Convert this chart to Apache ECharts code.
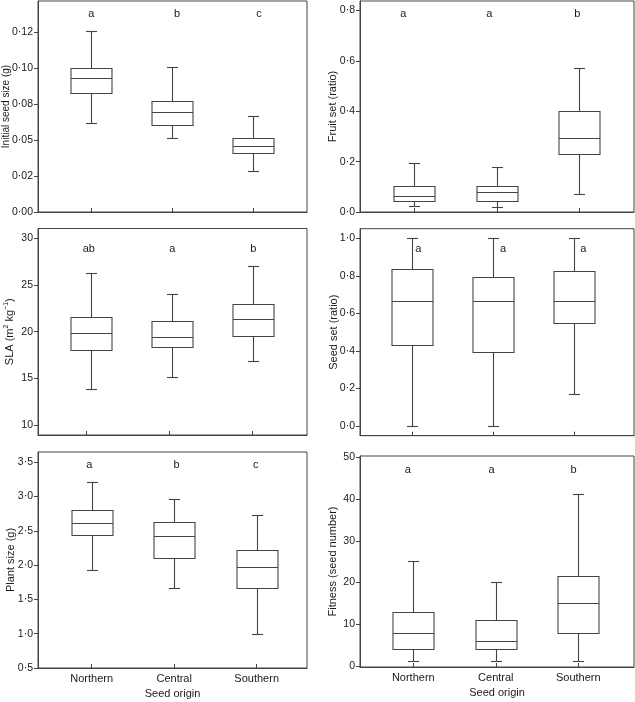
<!DOCTYPE html>
<html><head><meta charset="utf-8">
<script src="https://cdn.jsdelivr.net/npm/echarts@6/dist/echarts.min.js"></script>
<style>html,body{margin:0;padding:0;background:#fff}#c{width:635px;height:702px}</style>
</head><body><div id="c"></div>
<script>
const categories = ['Northern', 'Central', 'Southern'];
// each row: [lower whisker, Q1, median, Q3, upper whisker]
const initialSeedSize = [[0.0616,0.0824,0.0928,0.1002,0.1255],[0.0516,0.0604,0.0697,0.0769,0.1005],[0.0285,0.0407,0.0458,0.0512,0.0664]];
const fruitSet = [[0.022,0.044,0.063,0.104,0.196],[0.019,0.045,0.081,0.103,0.177],[0.070,0.229,0.293,0.401,0.570]];
const sla = [[13.82,18.04,19.82,21.54,26.29],[15.14,18.32,19.46,21.14,24.0],[16.82,19.57,21.32,23.0,27.07]];
const seedSet = [[0,0.429,0.667,0.8345,1.0],[0,0.393,0.667,0.795,1.0],[0.169,0.55,0.665,0.827,1.0]];
const plantSize = [[1.926,2.443,2.608,2.798,3.217],[1.672,2.111,2.418,2.623,2.959],[1.0,1.673,1.98,2.218,2.73]];
const fitness = [[1.1,4.0,8.0,13.0,25.2],[1.1,4.0,6.07,11.0,20.05],[1.1,8.0,15.0,21.6,41.3]];

const lettersSeedSize = ['a','b','c'];
const lettersFruitSet = ['a','a','b'];
const lettersSla = ['ab','a','b'];
const lettersSeedSet = ['a','a','a'];
const lettersPlantSize = ['a','b','c'];
const lettersFitness = ['a','a','b'];

const ticksSeedSize = [0,0.025,0.05,0.075,0.1,0.125];
const labelsSeedSize = ['0·00','0·02','0·05','0·08','0·10','0·12'];
const ticksFruitSet = [0,0.2,0.4,0.6,0.8];
const labelsFruitSet = ['0·0','0·2','0·4','0·6','0·8'];
const ticksSla = [10,15,20,25,30];
const labelsSla = ['10','15','20','25','30'];
const ticksSeedSet = [0,0.2,0.4,0.6,0.8,1.0];
const labelsSeedSet = ['0·0','0·2','0·4','0·6','0·8','1·0'];
const ticksPlantSize = [0.5,1.0,1.5,2.0,2.5,3.0,3.5];
const labelsPlantSize = ['0·5','1·0','1·5','2·0','2·5','3·0','3·5'];
const ticksFitness = [0,10,20,30,40,50];
const labelsFitness = ['0','10','20','30','40','50'];

const FONT = '"Liberation Sans", Arial, sans-serif';
const LINE = '#444';
const TXT = '#1a1a1a';

const panels = [
  {name:'Initial seed size (g)', nameSize:10, data:initialSeedSize, letters:lettersSeedSize, ticks:ticksSeedSize, labels:labelsSeedSize,
   grid:{left:38, top:1, width:269, height:211}, ymin:0, ymax:0.1465, xmin:-0.658, xmax:2.663,
   letterY:0.1375, letterDx:[0,0.06,0.07], nameGap:27, bottom:false, xticks:[0,1,2]},
  {name:'Fruit set (ratio)', nameSize:11, data:fruitSet, letters:lettersFruitSet, ticks:ticksFruitSet, labels:labelsFruitSet,
   grid:{left:360, top:1, width:274, height:211}, ymin:0, ymax:0.838, xmin:-0.658, xmax:2.663,
   letterY:0.787, letterDx:[-0.133,-0.09,-0.024], nameGap:22, bottom:false, xticks:[0,1,2]},
  {name:'SLA (m{sup|2} kg{sup|−1})', nameSize:11, data:sla, letters:lettersSla, ticks:ticksSla, labels:labelsSla,
   grid:{left:38, top:228.5, width:269, height:206.5}, ymin:8.93, ymax:31.05, xmin:-0.658, xmax:2.663,
   letterY:28.86, letterDx:[-0.03,0,0], nameGap:22, bottom:false, xticks:[-0.057,0.963,1.988]},
  {name:'Seed set (ratio)', nameSize:11, data:seedSet, letters:lettersSeedSet, ticks:ticksSeedSet, labels:labelsSeedSet,
   grid:{left:360, top:228.7, width:274, height:207}, ymin:-0.053, ymax:1.051, xmin:-0.646, xmax:2.737,
   letterY:0.943, letterDx:[0.075,0.12,0.11], nameGap:21, bottom:false, xticks:[0,1,2]},
  {name:'Plant size (g)', nameSize:11, data:plantSize, letters:lettersPlantSize, ticks:ticksPlantSize, labels:labelsPlantSize,
   grid:{left:38, top:452, width:269, height:216}, ymin:0.5, ymax:3.65, xmin:-0.651, xmax:2.61,
   letterY:3.46, letterDx:[-0.03,0.03,-0.01], nameGap:22, bottom:true, xticks:[0,1,2]},
  {name:'Fitness (seed number)', nameSize:11, data:fitness, letters:lettersFitness, ticks:ticksFitness, labels:labelsFitness,
   grid:{left:360, top:456, width:274, height:211}, ymin:-0.24, ymax:50.3, xmin:-0.646, xmax:2.675,
   letterY:46.96, letterDx:[-0.068,-0.052,-0.058], nameGap:22, bottom:true, xticks:[0,1,2]}
];

function renderBox(params, api) {
  const x = api.value(0);
  const lo = api.coord([x, api.value(1)]);
  const q1 = api.coord([x, api.value(2)]);
  const md = api.coord([x, api.value(3)]);
  const q3 = api.coord([x, api.value(4)]);
  const hi = api.coord([x, api.value(5)]);
  const cx = Math.round(lo[0]) + 0.5;
  const hw = 20.5, cw = 5.5;
  const r = v => Math.round(v) + 0.5;
  const st = {stroke: LINE, lineWidth: 1.1, fill: null};
  return {type:'group', children:[
    {type:'line', shape:{x1:cx, y1:r(q3[1]), x2:cx, y2:r(hi[1])}, style:st},
    {type:'line', shape:{x1:cx, y1:r(q1[1]), x2:cx, y2:r(lo[1])}, style:st},
    {type:'line', shape:{x1:cx-cw, y1:r(hi[1]), x2:cx+cw, y2:r(hi[1])}, style:st},
    {type:'line', shape:{x1:cx-cw, y1:r(lo[1]), x2:cx+cw, y2:r(lo[1])}, style:st},
    {type:'rect', shape:{x:cx-hw, y:r(q3[1]), width:2*hw, height:r(q1[1])-r(q3[1])}, style:{stroke:LINE, lineWidth:1.1, fill:'#fff'}},
    {type:'line', shape:{x1:cx-hw, y1:r(md[1]), x2:cx+hw, y2:r(md[1])}, style:st}
  ]};
}

function renderLetter(params, api) {
  const pt = api.coord([api.value(0), api.value(1)]);
  return {type:'text', x:pt[0], y:pt[1],
    style:{text:String(api.value(2)), fill:TXT, font:'11px ' + FONT, align:'center', verticalAlign:'middle'}};
}

const grid = [], xAxis = [], yAxis = [], series = [];
panels.forEach((p, i) => {
  grid.push(Object.assign({show:true, borderColor:LINE, borderWidth:1, backgroundColor:'transparent',
    containLabel:false, outerBoundsMode:'none'}, p.grid));
  xAxis.push({
    type:'value', gridIndex:i, min:p.xmin, max:p.xmax,
    splitLine:{show:false},
    axisLine:{show:true, onZero:false, lineStyle:{color:LINE, width:1}},
    axisTick:{show:true, inside:true, length:4, customValues:p.xticks, lineStyle:{color:LINE}},
    axisLabel:{show:p.bottom, customValues:[0,1,2], margin:5, fontSize:11, color:TXT, fontFamily:FONT,
      formatter: v => categories[Math.round(v)]},
    name: p.bottom ? 'Seed origin' : '', nameLocation:'middle', nameGap:20, nameMoveOverlap:false,
    nameTextStyle:{fontSize:11, color:TXT, fontFamily:FONT}
  });
  yAxis.push({
    type:'value', gridIndex:i, min:p.ymin, max:p.ymax,
    splitLine:{show:false},
    axisLine:{show:true, onZero:false, lineStyle:{color:LINE, width:1}},
    axisTick:{show:true, inside:false, length:4, customValues:p.ticks, lineStyle:{color:LINE}},
    axisLabel:{customValues:p.ticks, margin:5, fontSize:10.5, color:TXT, fontFamily:FONT,
      formatter: v => { const k = p.ticks.findIndex(t => Math.abs(t - v) < 1e-9); return k >= 0 ? p.labels[k] : ''; }},
    name:p.name, nameLocation:'middle', nameGap:p.nameGap, nameMoveOverlap:false,
    nameTextStyle:{fontSize:p.nameSize, color:TXT, fontFamily:FONT,
      rich:{sup:{fontSize:7, color:TXT, fontFamily:FONT, verticalAlign:'top', padding:[0,0,6,0]}}}
  });
  series.push({
    type:'custom', xAxisIndex:i, yAxisIndex:i, renderItem:renderBox,
    encode:{x:0, y:[1,2,3,4,5]},
    data:p.data.map((d, j) => [j].concat(d)),
    silent:true, z:3
  });
  series.push({
    type:'custom', xAxisIndex:i, yAxisIndex:i, renderItem:renderLetter,
    encode:{x:0, y:1},
    data:p.letters.map((l, j) => [j + p.letterDx[j], p.letterY, l]),
    dimensions:['x','y',{name:'t', type:'ordinal'}],
    silent:true, z:4
  });
});

const chart = echarts.init(document.getElementById('c'), null, {renderer:'canvas'});
chart.setOption({animation:false, textStyle:{fontFamily:FONT}, grid, xAxis, yAxis, series});
</script>
</body></html>
